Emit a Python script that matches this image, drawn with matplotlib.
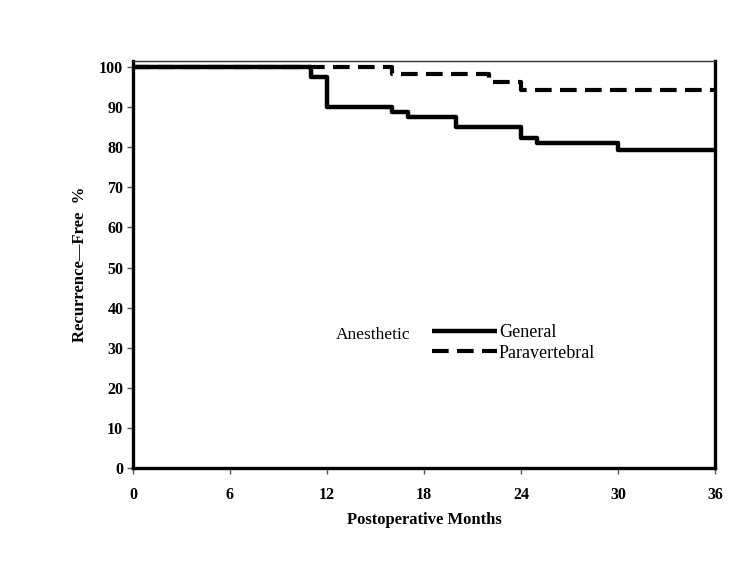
import matplotlib
matplotlib.use("Agg")
import matplotlib.pyplot as plt

# Kaplan-Meier step data (months, recurrence-free %)
general_months = [0, 11, 12, 16, 17, 20, 24, 25, 30, 36]
general_pct = [100, 97.5, 90.0, 88.8, 87.5, 85.0, 82.2, 81.0, 79.3, 79.3]

para_months = [0, 16, 22, 24, 36]
para_pct = [100, 98.2, 96.2, 94.3, 94.3]

x_ticks = [0, 6, 12, 18, 24, 30, 36]
y_ticks = [0, 10, 20, 30, 40, 50, 60, 70, 80, 90, 100]

serif = ["Liberation Serif", "DejaVu Serif"]

fig = plt.figure(figsize=(7.5, 5.63), dpi=100)
ax = fig.add_axes([133 / 750, 1 - 468 / 563, (715 - 133) / 750, (468 - 61) / 563])

ax.step(general_months, general_pct, where="post", color="black", lw=3.2,
        solid_capstyle="butt", label="General", zorder=3)
ax.step(para_months, para_pct, where="post", color="black", lw=3.0,
        linestyle=(0, (4, 2)), dash_capstyle="butt", label="Paravertebral", zorder=3)

ax.set_xlim(0, 36)
ax.set_ylim(0, 101.5)
ax.set_xticks(x_ticks)
ax.set_yticks(y_ticks)
ax.set_xticklabels([str(v) for v in x_ticks], family=serif, fontweight="bold", fontsize=11.5)
ax.set_yticklabels([str(v) for v in y_ticks], family=serif, fontweight="bold", fontsize=11.5)
ax.tick_params(axis="both", direction="out", length=4, width=1, color="#555555", pad=3)
ax.tick_params(axis="x", pad=10)

for side in ["left", "bottom", "right"]:
    ax.spines[side].set_linewidth(2.4)
    ax.spines[side].set_color("black")
ax.spines["top"].set_linewidth(1.0)
ax.spines["top"].set_color("#333333")

ax.set_xlabel("Postoperative Months", family=serif, fontweight="bold", fontsize=12, labelpad=6)
ax.set_ylabel("Recurrence\u2014Free  %", family=serif, fontweight="bold", fontsize=12, labelpad=8)

ax.text(12.55, 33.2, "Anesthetic", family=serif, fontsize=12.5, va="center", ha="left")
leg = ax.legend(loc="upper left", bbox_to_anchor=((432 - 133) / 582, (468 - 324) / 407),
                frameon=False, prop={"family": serif, "size": 13},
                handlelength=3.6, handletextpad=0.1, labelspacing=0.2, borderaxespad=0,
                borderpad=0)

fig.savefig("out.png", dpi=100, facecolor="white")
